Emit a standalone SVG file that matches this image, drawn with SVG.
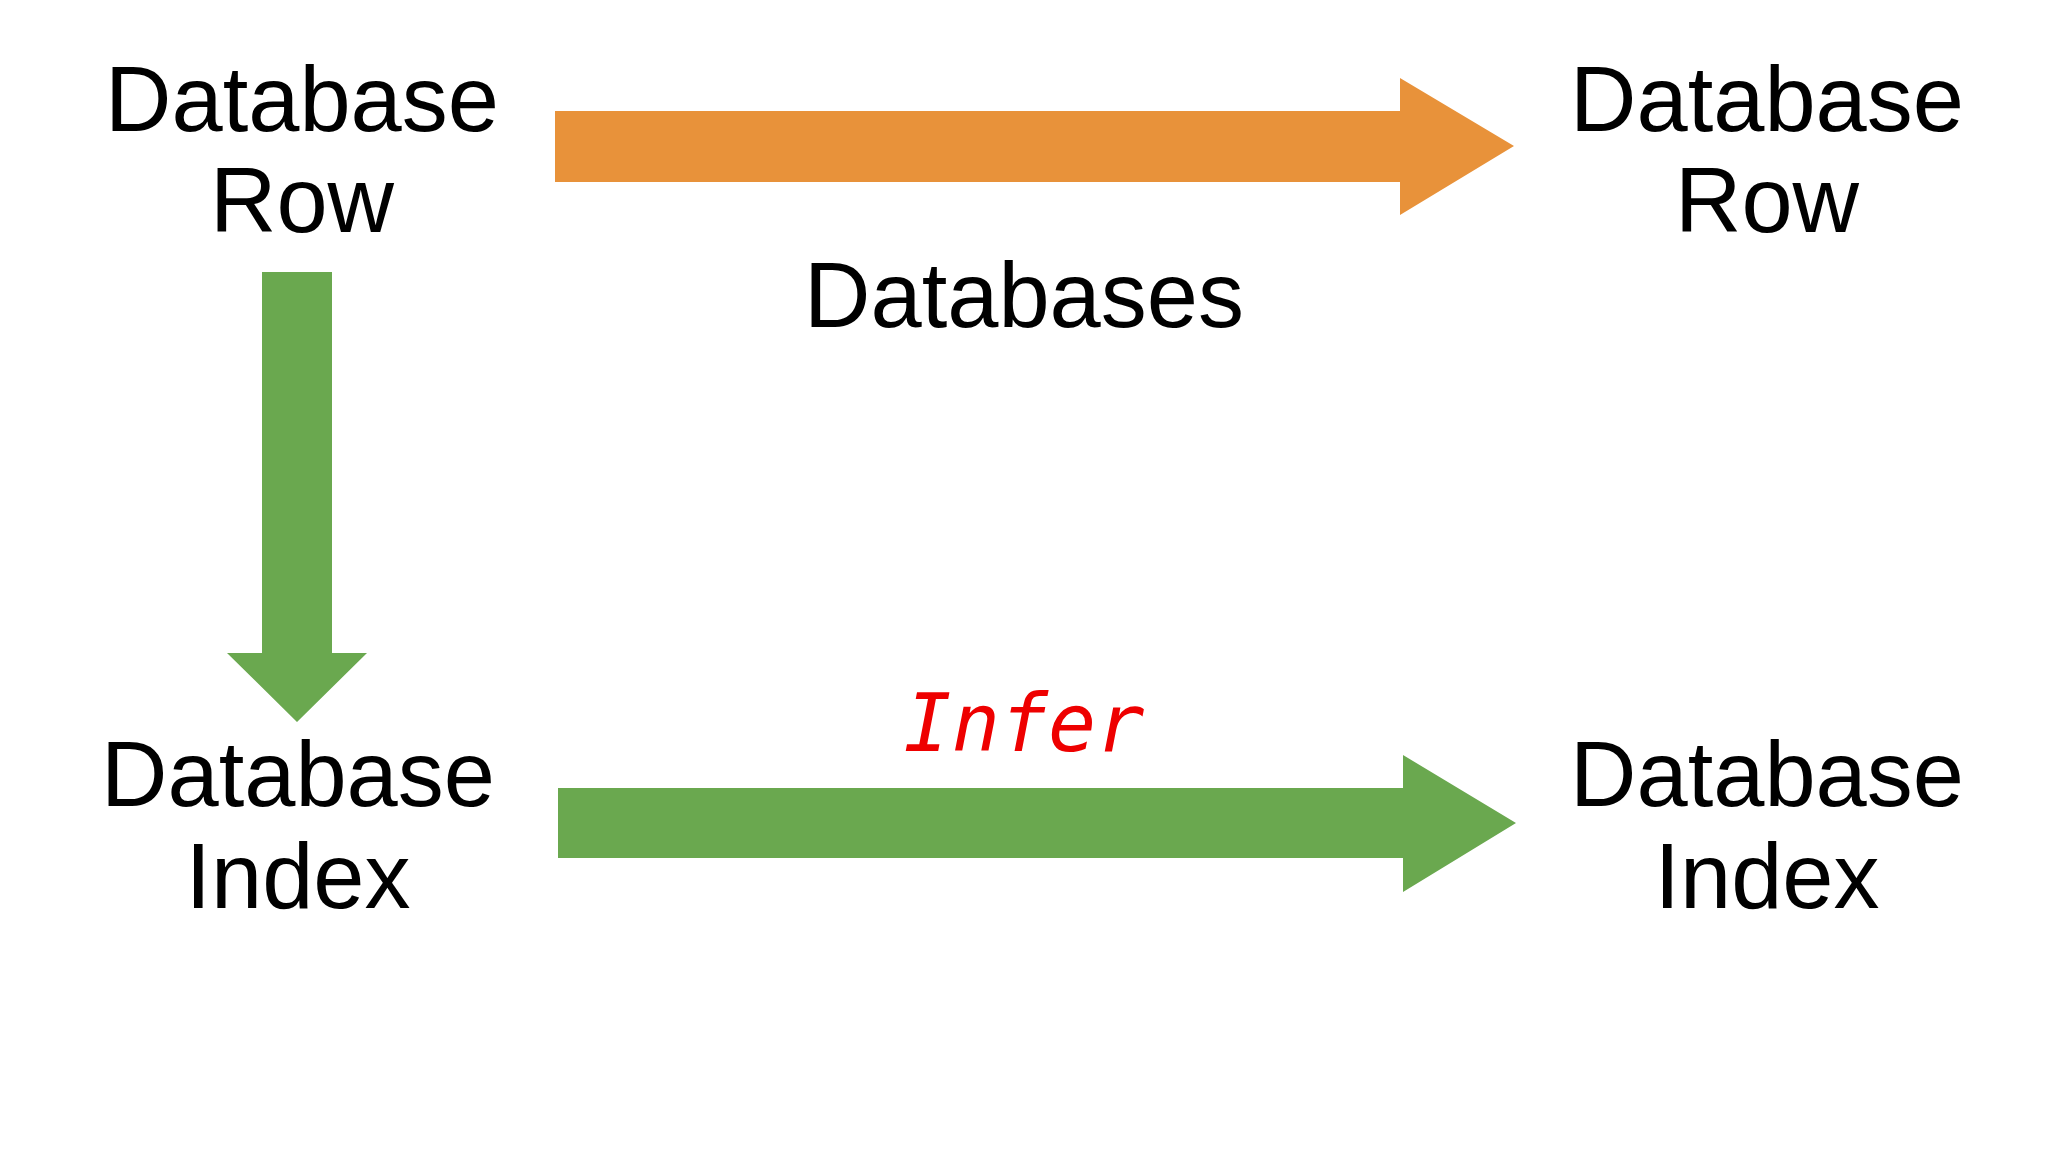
<svg xmlns="http://www.w3.org/2000/svg" width="2048" height="1152" viewBox="0 0 2048 1152">
<style>
.t{font-family:"Liberation Sans",Arial,sans-serif;font-size:92px;fill:#000;text-anchor:middle}
.g{fill:#6AA84F}.o{fill:#E8923A}
</style>
<rect width="2048" height="1152" fill="#fff"/>
<g id="connectors">
<polygon class="o" points="555,111 1400,111 1400,78 1514,146 1400,215 1400,182 555,182"/>
<polygon class="g" points="262,272 332,272 332,653 367,653 297,722 227,653 262,653"/>
<polygon class="g" points="558,788 1403,788 1403,755 1516,823 1403,892 1403,858 558,858"/>
<text class="t" x="1024" y="327">Databases</text>
<text x="1024" y="751" font-family="'DejaVu Sans Mono',monospace" font-size="80" fill="#EE0000" text-anchor="middle" font-style="italic">Infer</text>
</g>
<g id="n1"><text class="t" x="302" y="131">Database</text><text class="t" x="302" y="232">Row</text></g>
<g id="n2"><text class="t" x="1767" y="131">Database</text><text class="t" x="1767" y="232">Row</text></g>
<g id="n3"><text class="t" x="298" y="806">Database</text><text class="t" x="298" y="908">Index</text></g>
<g id="n4"><text class="t" x="1767" y="806">Database</text><text class="t" x="1767" y="908">Index</text></g>
</svg>
